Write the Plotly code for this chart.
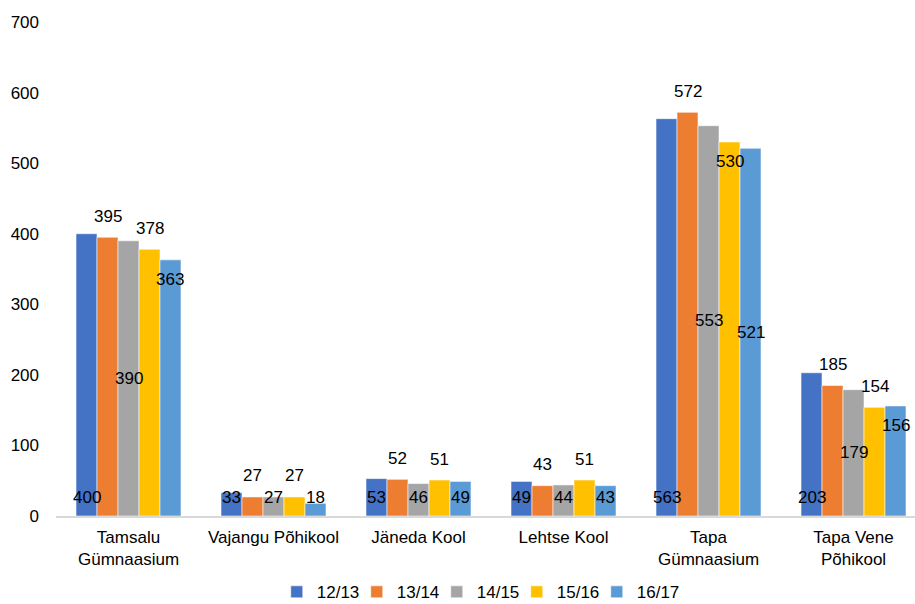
import plotly.graph_objects as go

categories = ["Tamsalu<br>Gümnaasium", "Vajangu Põhikool", "Jäneda Kool",
              "Lehtse Kool", "Tapa<br>Gümnaasium", "Tapa Vene<br>Põhikool"]
series_names = ["12/13", "13/14", "14/15", "15/16", "16/17"]
v_1213 = [400, 33, 53, 49, 563, 203]
v_1314 = [395, 27, 52, 43, 572, 185]
v_1415 = [390, 27, 46, 44, 553, 179]
v_1516 = [378, 27, 51, 51, 530, 154]
v_1617 = [363, 18, 49, 43, 521, 156]
y_ticks = [0, 100, 200, 300, 400, 500, 600, 700]

values = [v_1213, v_1314, v_1415, v_1516, v_1617]
colors = ["#4472C4", "#ED7D31", "#A5A5A5", "#FFC000", "#5B9BD5"]
# label placement per series/point (style, not data)
label_pos = [
    ["base"] * 6,
    ["out"] * 6,
    ["mid", "base", "base", "base", "mid", "mid"],
    ["out", "out", "out", "out", "end", "out"],
    ["end", "base", "base", "base", "mid", "end"],
]

FONT = "Liberation Sans, Arial, sans-serif"
FS = 17
bargap = 0.276
n = len(series_names)
bw = (1 - bargap) / n

fig = go.Figure()
for j, (name, vals, col) in enumerate(zip(series_names, values, colors)):
    fig.add_trace(go.Bar(
        x=categories, y=vals, name=name,
        legendwidth=35 if j < n - 1 else 46,
        marker=dict(color=col, line=dict(color="rgba(255,255,255,0.55)", width=1)),
    ))

annotations = []
for j, vals in enumerate(values):
    for i, v in enumerate(vals):
        p = label_pos[j][i]
        if p == "out":
            y, ys = v, 21
        elif p == "end":
            y, ys = v, -20
        elif p == "mid":
            y, ys = v / 2, 0
        else:
            y, ys = 0, 19
        annotations.append(dict(
            x=i + (j - (n - 1) / 2) * bw, y=y, xref="x", yref="y",
            text=str(v), showarrow=False, yanchor="middle", xanchor="center",
            yshift=ys, font=dict(family=FONT, size=FS, color="#000000"),
        ))

fig.update_layout(
    width=915, height=604,
    margin=dict(l=56, r=0, t=22, b=88, autoexpand=False),
    paper_bgcolor="white", plot_bgcolor="white",
    barmode="group", bargap=bargap, bargroupgap=0,
    font=dict(family=FONT, size=FS, color="#000000"),
    annotations=annotations,
    showlegend=True,
    legend=dict(orientation="h", x=0.257, xanchor="left", y=-0.118, yanchor="top",
                font=dict(family=FONT, size=FS, color="#000000"),
                itemwidth=30, entrywidthmode="pixels"),
    xaxis=dict(range=[-0.5, 5.424], showline=True, linecolor="#d9d9d9", linewidth=1.5,
               ticks="", showgrid=False, tickfont=dict(family=FONT, size=FS),
               ticklabelstandoff=5, automargin=False),
    yaxis=dict(range=[0, 700], tickvals=y_ticks, showgrid=False, zeroline=False,
               showline=False, ticks="", tickfont=dict(family=FONT, size=FS),
               ticklabelstandoff=16, automargin=False),
)

fig.write_html("out.html", config={"displayModeBar": False},
               post_script="document.body.style.margin='0';document.body.style.overflow='hidden';")
